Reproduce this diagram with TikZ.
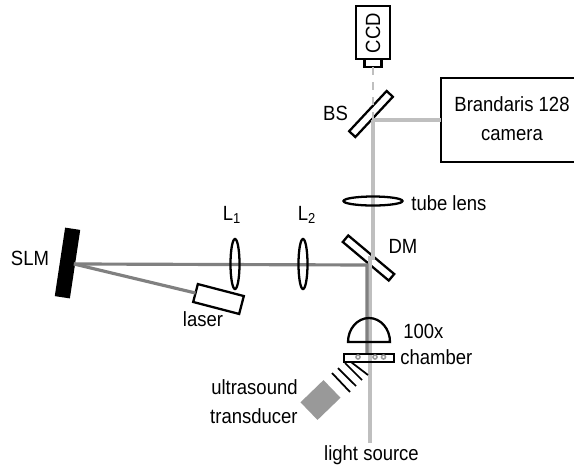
\documentclass[tikz,border=0pt]{standalone}
\usepackage{fontspec}
\setmainfont[FakeStretch=0.9]{Liberation Sans}
\usepackage{tikz}
\usetikzlibrary{positioning, shapes.geometric}

\newcommand{\pxl}{0.02cm}
\definecolor{lightbeam}{HTML}{BFBFBF}
\definecolor{darkbeam}{HTML}{808080}
\definecolor{pztgray}{HTML}{999999}

\tikzset{
    optic/.style={draw, line width=1.3pt, inner sep=0pt, outer sep=0pt},
    part/.style={optic, rectangle, minimum width=#1},
    lens/.style={optic, ellipse},
    beamlight/.style={line width=1.8pt, lightbeam},
    beamdark/.style={line width=1.8pt, darkbeam},
    wave/.style={line width=1pt},
    lbl/.style={font=\fontsize{11.7}{16.5}\selectfont, inner sep=0pt, align=center},
}

\begin{document}
\begin{tikzpicture}[x=\pxl, y=-\pxl, line join=miter]
        \useasboundingbox (0,0) rectangle (574,468);

        % camera parts
        \node[part=34*\pxl, minimum height=53*\pxl] (ccd) at (373,32.5) {};
        \node[part=17*\pxl, minimum height=8*\pxl, below=0pt of ccd] (ccdlens) {};
        \node[part=200*\pxl, minimum height=84*\pxl] (cam) at (541,120) {};

        % beam corners
        \coordinate (bscentre) at (373,120);
        \coordinate (dmtop) at (373,258);
        \coordinate (dmlow) at (370,258);
        \coordinate (dmturn) at (367,265);
        \coordinate (objend) at (367,353);
        \coordinate (srcend) at (370,443);

        % mirrors
        \node[part=55*\pxl, minimum height=8.5*\pxl, rotate=47] (bs) at (371,114) {};
        \node[part=60*\pxl, minimum height=8.5*\pxl, rotate=-40] (dm) at (368.5,258) {};

        % SLM and laser
        \node[part=13*\pxl, minimum height=67*\pxl, rotate=-8.6, fill=black] (slm) at (67.5,263) {};
        \node[part=47.5*\pxl, minimum height=18.5*\pxl, rotate=-14.6] (laser) at (218.5,299) {};

        % light path
        \draw[beamlight, line width=1.5pt, dash pattern=on 8*\pxl off 7*\pxl] (ccdlens.south) -- (ccdlens.south |- bscentre);
        \draw[beamlight] (bscentre) -- (cam.west);
        \draw[beamlight] (bscentre) -- (dmtop) -- (dmlow) -- (srcend);

        % laser path
        \draw[beamdark] (slm.east) -- (laser.west);
        \draw[beamdark] (slm.east) -- (dmturn) -- (objend);

        % lenses
        \node[lens, minimum width=9*\pxl, minimum height=50*\pxl] (lone) at (235,264) {};
        \node[lens, minimum width=9*\pxl, minimum height=50*\pxl] (ltwo) at (303,264) {};
        \node[lens, minimum width=59*\pxl, minimum height=9*\pxl] (tube) at (373,201) {};

        % objective and chamber
        \draw[line width=1.3pt] (348,342) arc[start angle=180, end angle=360, x radius=21, y radius=24] -- cycle;
        \node[part=50*\pxl, minimum height=8*\pxl] (chamber) at (369,358) {};
        \foreach \bx in {358,375,383.5}
            \draw[pztgray, line width=0.9pt] (\bx,357) circle[radius=2];

        % ultrasound
        \draw[wave] (332,373) -- (350,392);
        \draw[wave] (338,368) -- (356,386);
        \draw[wave] (345,363) -- (362,380);
        \draw[wave] (351,362) -- (368,375);
        \node[rectangle, fill=pztgray, minimum width=32*\pxl, minimum height=24.5*\pxl, inner sep=0pt, rotate=44] (pzt) at (320.5,400) {};

        % labels
        \node[lbl, rotate=90] (ccdtext) at (373,33) {CCD};
        \node[lbl] (bstext) at (335.5,113) {BS};
        \node[lbl] (camtext) at (512,119) {Brandaris 128\\camera};
        \node[lbl] (tubetext) [anchor=west] at (411,203) {tube lens};
        \node[lbl] (dmtext) at (403,246) {DM};
        \node[lbl] (lonetext) at (232,215) {L\textsubscript{1}};
        \node[lbl] (ltwotext) at (307,215) {L\textsubscript{2}};
        \node[lbl] (slmtext) at (30,258) {SLM};
        \node[lbl] (lasertext) at (203,319) {laser};
        \node[lbl] (objtext) [anchor=west] at (403,331) {100x};
        \node[lbl] (chambertext) [anchor=west] at (400,357) {chamber};
        \node[lbl, align=right] (pzttext) [anchor=east] at (298,402) {ultrasound\\transducer};
        \node[lbl] (srctext) at (371.5,455) {light source};
    \end{tikzpicture}
\end{document}
